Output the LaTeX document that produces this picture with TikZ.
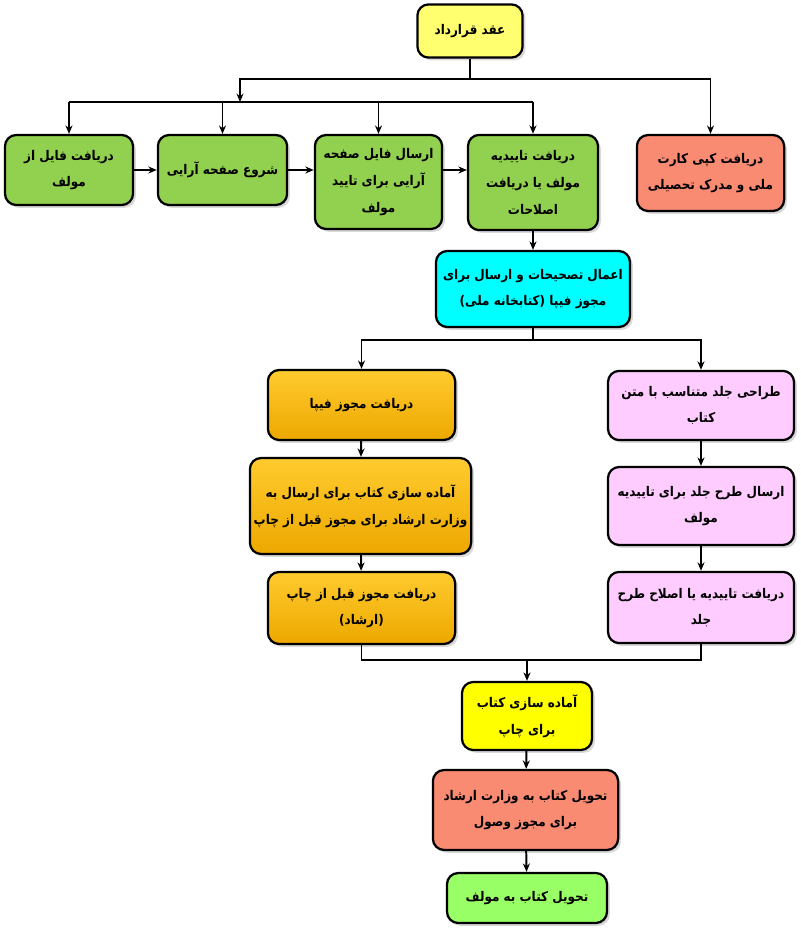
\documentclass[tikz,border=0pt]{standalone}
\usepackage{fontspec}
\newfontfamily\farsi[Script=Arabic]{DejaVu Sans Condensed}
\TeXXeTstate=1
\usetikzlibrary{shadows,arrows.meta}
\newcommand{\fa}[1]{\beginR #1\endR}
\definecolor{paleyellow}{HTML}{FFFF70}
\definecolor{brightyellow}{HTML}{FFFF00}
\definecolor{leafgreen}{HTML}{92D050}
\definecolor{limegreen}{HTML}{99FF66}
\definecolor{salmon}{HTML}{F98B73}
\definecolor{aqua}{HTML}{00FFFF}
\definecolor{goldtop}{HTML}{FFCB2E}
\definecolor{goldbot}{HTML}{EDA800}
\definecolor{lilac}{HTML}{FFCCFF}

\begin{document}
\begin{tikzpicture}[
    x=0.025cm, y=-0.025cm,
    box/.style={draw, line width=1.6pt, rounded corners=8pt, fill=#1,
                align=center, inner sep=2pt,
                font=\farsi\bfseries\fontsize{9.5}{19}\selectfont,
                drop shadow={opacity=0.3, shadow xshift=2pt, shadow yshift=-2pt}},
    goldbox/.style={box=goldtop, top color=goldtop, bottom color=goldbot},
    sz/.style 2 args={minimum width=#1cm, minimum height=#2cm},
    line/.style={line width=1.4pt},
    arr/.style={-{Stealth[length=6pt,width=5pt]}, line width=1.4pt},
]
\useasboundingbox (0,0) rectangle (800,931);

% top
\node[box=paleyellow, sz={2.63}{1.33}] (contract) at (470,31) {\fa{عقد قرارداد}};

% first row
\node[box=leafgreen, sz={3.2}{1.75}]  (fileget) at (69,170)    {\fa{دریافت فایل از}\\\fa{مولف}};
\node[box=leafgreen, sz={3.23}{1.75}] (layout)  at (222.5,170) {\fa{شروع صفحه آرایی}};
\node[box=leafgreen, sz={3.18}{2.35}] (sendlay) at (378.5,182) {\fa{ارسال فایل صفحه}\\\fa{آرایی برای تایید}\\\fa{مولف}};
\node[box=leafgreen, sz={3.25}{2.38}] (approve) at (533,182.5) {\fa{دریافت تاییدیه}\\\fa{مولف یا دریافت}\\\fa{اصلاحات}};
\node[box=salmon, sz={3.68}{1.9}]     (idcopy)  at (710.5,173) {\fa{دریافت کپی کارت}\\\fa{ملی و مدرک تحصیلی}};

\node[box=aqua, sz={4.85}{1.9}] (fipareq) at (533,289) {\fa{اعمال تصحیحات و ارسال برای}\\\fa{مجوز فیپا (کتابخانه ملی)}};

% left branch
\node[goldbox, sz={4.68}{1.75}] (fipa)     at (361.5,405) {\fa{دریافت مجوز فیپا}};
\node[goldbox, sz={5.53}{2.4}]  (prep)     at (360.5,506) {\fa{آماده سازی کتاب برای ارسال به}\\\fa{وزارت ارشاد برای مجوز قبل از چاپ}};
\node[goldbox, sz={4.68}{1.8}]  (preprint) at (361.5,608) {\fa{دریافت مجوز قبل از چاپ}\\\fa{(ارشاد)}};

% right branch
\node[box=lilac, sz={4.65}{1.73}] (cover)     at (701,405.5) {\fa{طراحی جلد متناسب با متن}\\\fa{کتاب}};
\node[box=lilac, sz={4.65}{1.95}] (coversend) at (701,506)   {\fa{ارسال طرح جلد برای تاییدیه}\\\fa{مولف}};
\node[box=lilac, sz={4.65}{1.78}] (coverok)   at (701,607.5) {\fa{دریافت تاییدیه یا اصلاح طرح}\\\fa{جلد}};

% bottom
\node[box=brightyellow, sz={3.25}{1.7}] (printprep) at (527,716) {\fa{آماده سازی کتاب}\\\fa{برای چاپ}};
\node[box=salmon, sz={4.63}{2.0}]       (ministry)  at (525.5,810) {\fa{تحویل کتاب به وزارت ارشاد}\\\fa{برای مجوز وصول}};
\node[box=limegreen, sz={4.0}{1.25}]    (deliver)   at (527,898) {\fa{تحویل کتاب به مولف}};

% connectors
\coordinate (h1) at (470,79);
\coordinate (h2) at (240,102);
\draw[line] (contract.south) -- (h1);
\draw[arr] (h1) -| (h2);
\draw[arr] (h1) -| (idcopy.north);
\draw[line] (fileget.north |- h2) -- (approve.north |- h2);
\foreach \n in {fileget,layout,sendlay,approve}
  \draw[arr] (\n.north |- h2) -- (\n.north);

\draw[arr] (fileget) -- (layout);
\draw[arr] (layout) -- (layout -| sendlay.west);
\draw[arr] (sendlay.east |- layout) -- (approve.west |- layout);
\draw[arr] (approve) -- (fipareq);

\coordinate (h3) at (533,340);
\draw[line] (fipareq.south) -- (h3);
\draw[arr] (h3) -| (fipa.north);
\draw[arr] (h3) -| (cover.north);
\draw[arr] (fipa) -- (prep);
\draw[arr] (prep) -- (preprint);
\draw[arr] (cover) -- (coversend);
\draw[arr] (coversend) -- (coverok);

\coordinate (h4) at (527,660);
\draw[line] (preprint.south) |- (h4) -| (coverok.south);
\draw[arr] (h4) -- (printprep);
\draw[arr] (printprep) -- (ministry);
\draw[arr] (ministry) -- (deliver);
\end{tikzpicture}
\end{document}
